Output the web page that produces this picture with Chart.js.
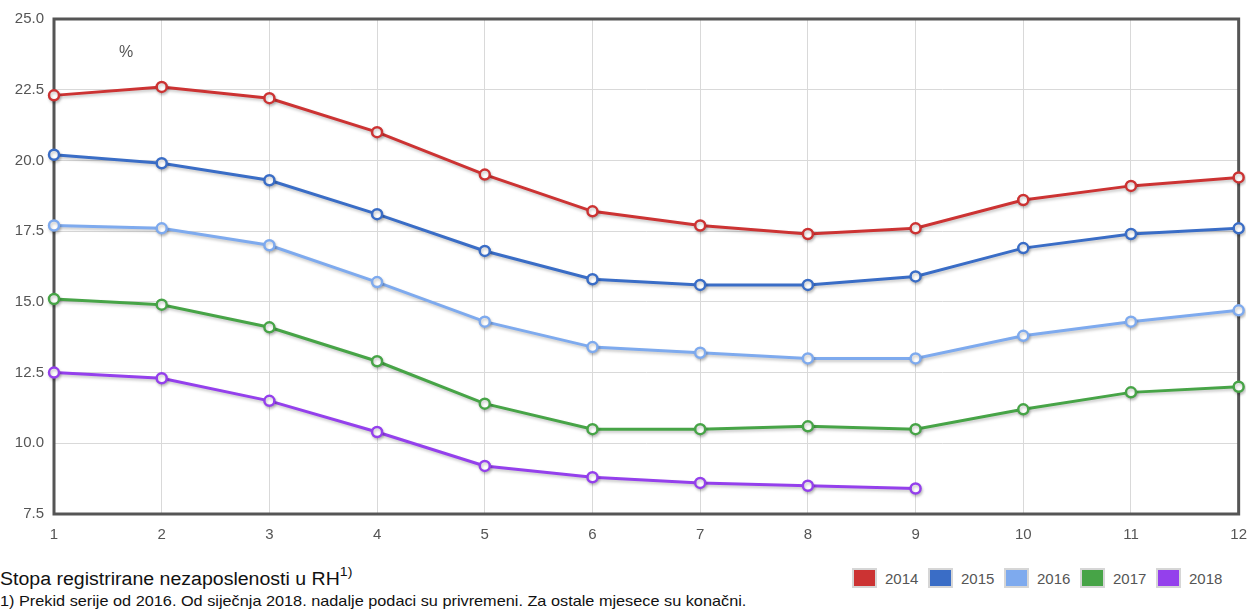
<!DOCTYPE html>
<html>
<head>
<meta charset="utf-8">
<script src="https://cdn.jsdelivr.net/npm/chart.js@4/dist/chart.umd.min.js"></script>
<style>
    body { margin: 0; background: #fff; font-family: "Liberation Sans", Arial, sans-serif; overflow: hidden; }
    #wrap { position: relative; width: 1250px; height: 610px; }
    #chart-box { position: absolute; left: 0; top: 0; width: 1250px; height: 550px; }
    .title { position: absolute; left: 0; top: 566px; font-size: 18px; color: #111; white-space: nowrap;
             transform: scaleX(1.085); transform-origin: left top; }
    .title sup { font-size: 13px; position: relative; top: -2px; }
    .note { position: absolute; left: 0; top: 592px; font-size: 15px; color: #111; white-space: nowrap;
            transform: scaleX(1.085); transform-origin: left top; }
    .legend { position: absolute; left: 852px; top: 568px; display: flex; font-size: 15px; color: #555; }
    .legend span { display: flex; align-items: center; width: 76px; }
    .legend i { display: inline-block; width: 21px; height: 16px; border: 2px solid #d6d6d6; margin-right: 8px; box-sizing: content-box; }
</style>
</head>
<body>
<div id="wrap">
    <div id="chart-box"><canvas id="chart"></canvas></div>
    <div class="title">Stopa registrirane nezaposlenosti u RH<sup>1)</sup></div>
    <div class="note">1) Prekid serije od 2016. Od siječnja 2018. nadalje podaci su privremeni. Za ostale mjesece su konačni.</div>
    <div class="legend" id="legend"></div>
</div>
<script>
// months on x axis
const months = ['1', '2', '3', '4', '5', '6', '7', '8', '9', '10', '11', '12'];

const years = ['2014', '2015', '2016', '2017', '2018'];
const colors = ['#cc3333', '#3a6dc6', '#7eaaee', '#47a447', '#9440ec'];

const rate2014 = [22.3, 22.6, 22.2, 21.0, 19.5, 18.2, 17.7, 17.4, 17.6, 18.6, 19.1, 19.4];
const rate2015 = [20.2, 19.9, 19.3, 18.1, 16.8, 15.8, 15.6, 15.6, 15.9, 16.9, 17.4, 17.6];
const rate2016 = [17.7, 17.6, 17.0, 15.7, 14.3, 13.4, 13.2, 13.0, 13.0, 13.8, 14.3, 14.7];
const rate2017 = [15.1, 14.9, 14.1, 12.9, 11.4, 10.5, 10.5, 10.6, 10.5, 11.2, 11.8, 12.0];
const rate2018 = [12.5, 12.3, 11.5, 10.4, 9.2, 8.8, 8.6, 8.5, 8.4];

const series = [rate2014, rate2015, rate2016, rate2017, rate2018];

// legend in html
const legendEl = document.getElementById('legend');
years.forEach((y, i) => {
    legendEl.innerHTML += `<span><i style="background:${colors[i]}"></i>${y}</span>`;
});

const tickFont = { family: '"Liberation Sans", Arial, sans-serif', size: 15 };

// frame + "%" label + line shadows
const framePlugin = {
    id: 'frame',
    beforeDatasetsDraw(chart) {
        const { ctx, chartArea: a } = chart;
        ctx.save();
        ctx.strokeStyle = '#555';
        ctx.lineWidth = 3;
        ctx.strokeRect(a.left, a.top, a.right - a.left, a.bottom - a.top);
        ctx.fillStyle = '#555';
        ctx.font = '16px "Liberation Sans", Arial, sans-serif';
        ctx.textAlign = 'center';
        ctx.textBaseline = 'middle';
        ctx.fillText('%', 126, 53);
        ctx.restore();
    },
    beforeDatasetDraw(chart) {
        const ctx = chart.ctx;
        ctx.save();
        ctx.shadowColor = 'rgba(0,0,0,0.22)';
        ctx.shadowBlur = 3;
        ctx.shadowOffsetX = 1;
        ctx.shadowOffsetY = 2;
    },
    afterDatasetDraw(chart) {
        chart.ctx.restore();
    }
};

new Chart(document.getElementById('chart'), {
    type: 'line',
    data: {
        labels: months,
        datasets: series.map((data, i) => ({
            label: years[i],
            data: data,
            borderColor: colors[i],
            backgroundColor: '#fff',
            pointBackgroundColor: '#fff',
            pointBorderColor: colors[i],
            pointBorderWidth: 2.5,
            pointRadius: 5,
            borderWidth: 3,
            tension: 0,
            fill: false
        }))
    },
    options: {
        responsive: true,
        maintainAspectRatio: false,
        animation: false,
        layout: {
            padding: { top: 16, right: 0, left: 0, bottom: 0 }
        },
        plugins: {
            legend: { display: false },
            tooltip: { enabled: false }
        },
        scales: {
            x: {
                offset: false,
                grid: { color: '#d9d9d9', lineWidth: 1, drawTicks: true, tickLength: 9, tickColor: 'rgba(0,0,0,0)' },
                border: { display: false },
                ticks: {
                    color: '#555',
                    padding: 3,
                    maxRotation: 0,
                    font: tickFont
                },
                afterFit(scale) { scale.height = 36; }
            },
            y: {
                min: 7.5,
                max: 25,
                grid: { color: '#d9d9d9', lineWidth: 1, drawTicks: false },
                border: { display: false },
                ticks: {
                    stepSize: 2.5,
                    color: '#555',
                    padding: 10,
                    font: tickFont,
                    callback: v => v.toFixed(1)
                },
                afterFit(scale) { scale.width = 54; }
            }
        }
    },
    plugins: [framePlugin]
});
</script>
</body>
</html>
